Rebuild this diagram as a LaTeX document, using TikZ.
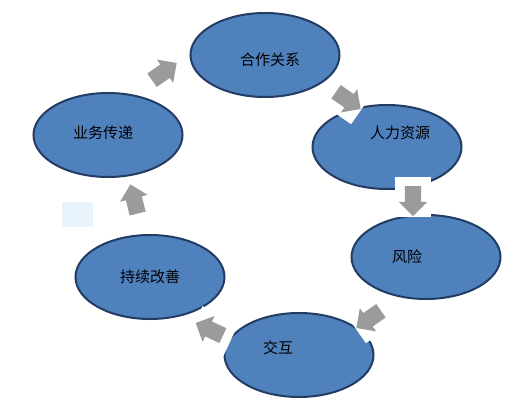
\documentclass[tikz,border=0pt]{standalone}
\usepackage{fontspec}
\newfontfamily\cjk{Noto Sans CJK SC}
\usetikzlibrary{shapes.geometric,shapes.arrows}
\definecolor{ovalblue}{RGB}{79,129,189}
\definecolor{ovalline}{RGB}{35,60,100}
\definecolor{arrowgray}{RGB}{155,155,155}
\definecolor{paleblue}{RGB}{232,243,252}

\begin{document}
\begin{tikzpicture}[x=1pt,y=-1pt,
    oval/.style={ellipse,draw=ovalline,fill=ovalblue,line width=2pt,
      minimum width=149pt,minimum height=84pt,inner sep=0pt},
    cutout/.style={rectangle,fill=white,minimum width=40pt,minimum height=36pt,inner sep=0pt},
    blockarrow/.style={single arrow,fill=arrowgray,minimum height=30pt,
      single arrow head extend=6pt,inner xsep=0pt,inner ysep=8pt},
    every label/.style={font=\cjk\fontsize{15}{15}\selectfont}]
  \useasboundingbox (0,0) rectangle (529,409);
  \fill[paleblue] (62,202) rectangle (93,227);
  \node[oval,label={[xshift=5pt,yshift=-5pt]center:合作关系}] (hz) at (265,55) {};
  \node[oval,label={[xshift=13pt,yshift=14pt]center:人力资源}] (rl) at (387,147) {};
  \node[oval,label={[xshift=-19pt]center:风险}] (fx) at (426,257) {};
  \node[oval,label={[xshift=-21pt,yshift=7pt]center:交互}] (jh) at (299,355) {};
  \node[oval,label={center:持续改善}] (cx) at (150,277) {};
  \node[oval,label={[xshift=-5pt,yshift=2pt]center:业务传递}] (yw) at (108,135) {};

  \node[cutout,rotate=35] (c1) at (161,74) {};
  \node[cutout,rotate=-35] (c2) at (345,98) {};
  \node[cutout,rotate=-90] (c3) at (413,197) {};
  \node[cutout,rotate=215] (c4) at (372,317) {};
  \node[cutout,rotate=155] (c5) at (213,331) {};
  \node[cutout,rotate=104] (c6) at (135,203) {};

  \node[blockarrow,rotate=35] (a1) at (161,74) {};
  \node[blockarrow,rotate=-35] (a2) at (345,98) {};
  \node[blockarrow,rotate=-90] (a3) at (413,197) {};
  \node[blockarrow,rotate=215] (a4) at (372,317) {};
  \node[blockarrow,rotate=155] (a5) at (213,331) {};
  \node[blockarrow,rotate=104] (a6) at (135,203) {};
\end{tikzpicture}
\end{document}
